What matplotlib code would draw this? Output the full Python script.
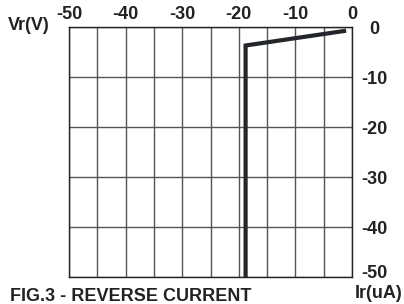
import matplotlib
matplotlib.use("Agg")
import matplotlib.pyplot as plt
import matplotlib.transforms as mtransforms

plt.rcParams['font.family'] = ['Liberation Sans', 'DejaVu Sans']

vr_ticks = [-50, -40, -30, -20, -10, 0]
ir_ticks = [0, -10, -20, -30, -40, -50]
vr_grid = [-45, -35, -25, -15, -5]
curve_vr = [-18.8, -18.8, -1.4]
curve_ir = [-50, -3.7, -0.8]

FS = 13
TXT = '#222222'

fig = plt.figure(figsize=(4.04, 3.04), dpi=100)
ax = fig.add_axes([69/404, 1-277/304, 283/404, 250/304])
ax.set_xlim(-50, 0)
ax.set_ylim(-50, 0)

for v in vr_ticks + vr_grid:
    ax.axvline(v, color='#555555', lw=1.0, zorder=1)
for i in ir_ticks:
    ax.axhline(i, color='#555555', lw=1.0, zorder=1)

ax.plot(curve_vr, curve_ir, color='#23272b', lw=3.0, solid_joinstyle='miter', zorder=3)

for s in ax.spines.values():
    s.set_color('#222222')
    s.set_linewidth(1.0)

ax.xaxis.tick_top()
ax.set_xticks(vr_ticks)
ax.set_xticklabels([str(v) for v in vr_ticks], fontsize=FS, fontweight='bold', color=TXT)
ax.tick_params(axis='x', length=0, pad=3)

ax.yaxis.tick_right()
ax.set_yticks(ir_ticks)
ax.set_yticklabels([str(v) for v in ir_ticks], fontsize=FS, fontweight='bold', color=TXT)
ax.tick_params(axis='y', length=0, pad=16)
for lab in ax.get_yticklabels():
    lab.set_horizontalalignment('center')
last = ax.get_yticklabels()[-1]
last.set_transform(last.get_transform() + mtransforms.ScaledTranslation(0, 6/100, fig.dpi_scale_trans))

fig.text(8/404, 1-26/304, 'Vr(V)', fontsize=FS, fontweight='bold', color=TXT, ha='left', va='center')
fig.text(379/404, 1-293/304, 'Ir(uA)', fontsize=FS, fontweight='bold', color=TXT, ha='center', va='center')
fig.text(10/404, 3/304, 'FIG.3 - REVERSE CURRENT', fontsize=FS, fontweight='bold', color=TXT, ha='left', va='baseline')

fig.savefig('out.png', dpi=100)
